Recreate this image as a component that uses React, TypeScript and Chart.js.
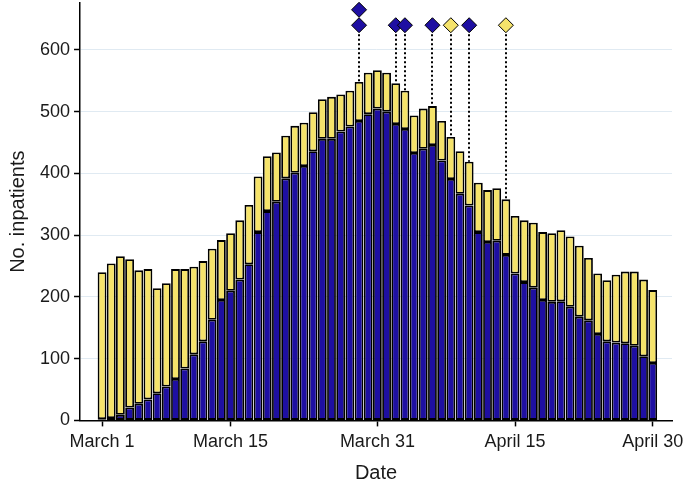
import React, { useEffect, useRef } from "react";
import { Chart, registerables } from "chart.js";

Chart.register(...registerables);

// Day index 0 = March 1 ... 60 = April 30
const tickDays = [0, 14, 30, 45, 60];
const tickLabels = ["March 1", "March 15", "March 31", "April 15", "April 30"];
const yTickValues = [0, 100, 200, 300, 400, 500, 600];

// Lower (blue) series
const blueCounts = [
  2, 4, 9, 21, 27, 34, 44, 55, 67, 84, 107, 128, 163, 195, 210, 228, 253, 305, 339, 354,
  392, 401, 412, 436, 456, 456, 468, 476, 485, 496, 505, 500, 480, 472, 433, 440, 446, 421, 391, 367,
  348, 305, 289, 291, 268, 238, 224, 215, 195, 192, 193, 184, 168, 162, 140, 128, 126, 125, 121, 104,
  93,
];

// Upper (yellow) series
const yellowCounts = [
  238, 250, 257, 240, 216, 211, 170, 167, 178, 161, 142, 130, 115, 97, 93, 96, 96, 90, 89, 80,
  69, 76, 70, 63, 64, 68, 60, 58, 63, 67, 62, 63, 66, 62, 61, 65, 63, 64, 68, 69,
  71, 80, 84, 85, 90, 93, 100, 105, 110, 111, 115, 114, 115, 101, 98, 99, 110, 116, 120, 124,
  118,
];

// Markers
const blueMarkerDays = [28, 32, 33, 36, 40];
const blueMarkerLevels = [640, 640, 640, 640, 640];
const extraBlueMarkerDays = [28];
const extraBlueMarkerLevels = [665];
const yellowMarkerDays = [38, 44];
const yellowMarkerLevels = [640, 640];

const BLUE = "#1e0fa2";
const YELLOW = "#f5e36b";
const FONT = 'Arial, "Liberation Sans", sans-serif';

const dropLines = {
  id: "dropLines",
  beforeDatasetsDraw(chart: any) {
    const { ctx } = chart;
    const xs = chart.scales.x;
    const ys = chart.scales.y;
    const items: [number, number][] = [
      ...blueMarkerDays.map((d, i) => [d, blueMarkerLevels[i]] as [number, number]),
      ...yellowMarkerDays.map((d, i) => [d, yellowMarkerLevels[i]] as [number, number]),
    ];
    ctx.save();
    ctx.strokeStyle = "#000";
    ctx.lineWidth = 2;
    ctx.setLineDash([2, 2.5]);
    items.forEach(([d, lvl]) => {
      const px = Math.round(xs.getPixelForValue(d));
      const top = blueCounts[d] + yellowCounts[d];
      ctx.beginPath();
      ctx.moveTo(px, ys.getPixelForValue(lvl));
      ctx.lineTo(px, ys.getPixelForValue(top));
      ctx.stroke();
    });
    ctx.restore();
  },
};

export default function App() {
  const ref = useRef<HTMLCanvasElement | null>(null);

  useEffect(() => {
    if (!ref.current) return;
    const barData = (arr: number[]) => arr.map((v, i) => ({ x: i, y: v }));
    const markerData = (days: number[], levels: number[]) =>
      days.map((d, i) => ({ x: d, y: levels[i] }));

    const markerBase = {
      type: "line" as const,
      showLine: false,
      pointStyle: "rectRot",
      pointRadius: 7.5,
      pointBorderColor: "#000",
      pointBorderWidth: 1,
      clip: false as any,
      order: 0,
    };

    const barBase = {
      type: "bar" as const,
      borderColor: "#000",
      borderWidth: 1.8,
      borderSkipped: false,
      barPercentage: 0.96,
      categoryPercentage: 1,
      stack: "bars",
      order: 1,
    };

    const chart = new Chart(ref.current, {
      type: "bar",
      data: {
        datasets: [
          {
            ...markerBase,
            data: markerData(blueMarkerDays, blueMarkerLevels),
            backgroundColor: BLUE,
            pointBackgroundColor: BLUE,
            stack: "m1",
          } as any,
          {
            ...markerBase,
            data: markerData(extraBlueMarkerDays, extraBlueMarkerLevels),
            backgroundColor: BLUE,
            pointBackgroundColor: BLUE,
            stack: "m2",
          } as any,
          {
            ...markerBase,
            data: markerData(yellowMarkerDays, yellowMarkerLevels),
            backgroundColor: YELLOW,
            pointBackgroundColor: YELLOW,
            stack: "m3",
          } as any,
          { ...barBase, data: barData(blueCounts), backgroundColor: BLUE } as any,
          { ...barBase, data: barData(yellowCounts), backgroundColor: YELLOW } as any,
        ],
      },
      options: {
        animation: false,
        responsive: true,
        maintainAspectRatio: false,
        layout: { autoPadding: false, padding: { left: 4, right: 13, top: 3, bottom: 0 } },
        plugins: { legend: { display: false }, tooltip: { enabled: false } },
        scales: {
          x: {
            type: "linear",
            min: -2.4,
            max: 62.1,
            offset: false,
            stacked: true,
            afterBuildTicks: (scale: any) => {
              scale.ticks = tickDays.map((v) => ({ value: v }));
            },
            afterFit: (scale: any) => {
              scale.paddingLeft = 0;
              scale.paddingRight = 0;
            },
            ticks: {
              autoSkip: false,
              maxRotation: 0,
              padding: 5,
              color: "#1a1a1a",
              font: { family: FONT, size: 18 },
              callback: (value: any) => {
                const k = tickDays.indexOf(Number(value));
                return k >= 0 ? tickLabels[k] : "";
              },
            },
            grid: {
              display: true,
              offset: false,
              drawOnChartArea: false,
              drawTicks: true,
              tickLength: 6,
              tickColor: "#000",
              tickWidth: 1.5,
            },
            border: { display: true, color: "#000", width: 1.5 },
            title: {
              display: true,
              text: "Date",
              color: "#1a1a1a",
              font: { family: FONT, size: 20 },
              padding: { top: 3, bottom: 0 },
            },
          },
          y: {
            type: "linear",
            min: 0,
            max: 676,
            stacked: true,
            afterBuildTicks: (scale: any) => {
              scale.ticks = yTickValues.map((v) => ({ value: v }));
            },
            afterFit: (scale: any) => {
              scale.paddingTop = 0;
              scale.paddingBottom = 0;
            },
            ticks: {
              padding: 4,
              color: "#1a1a1a",
              font: { family: FONT, size: 18 },
            },
            grid: {
              display: true,
              color: "#e0eaf2",
              lineWidth: 1,
              drawTicks: true,
              tickLength: 6,
              tickColor: "#000",
              tickWidth: 1.5,
            },
            border: { display: true, color: "#000", width: 1.5 },
            title: {
              display: true,
              text: "No. inpatients",
              color: "#1a1a1a",
              font: { family: FONT, size: 20 },
              padding: { top: 2, bottom: 6 },
            },
          },
        },
      },
      plugins: [dropLines],
    });
    return () => chart.destroy();
  }, []);

  return (
    <div style={{ position: "absolute", left: 0, top: 0, width: 685, height: 485 }}>
      <canvas ref={ref} />
    </div>
  );
}
